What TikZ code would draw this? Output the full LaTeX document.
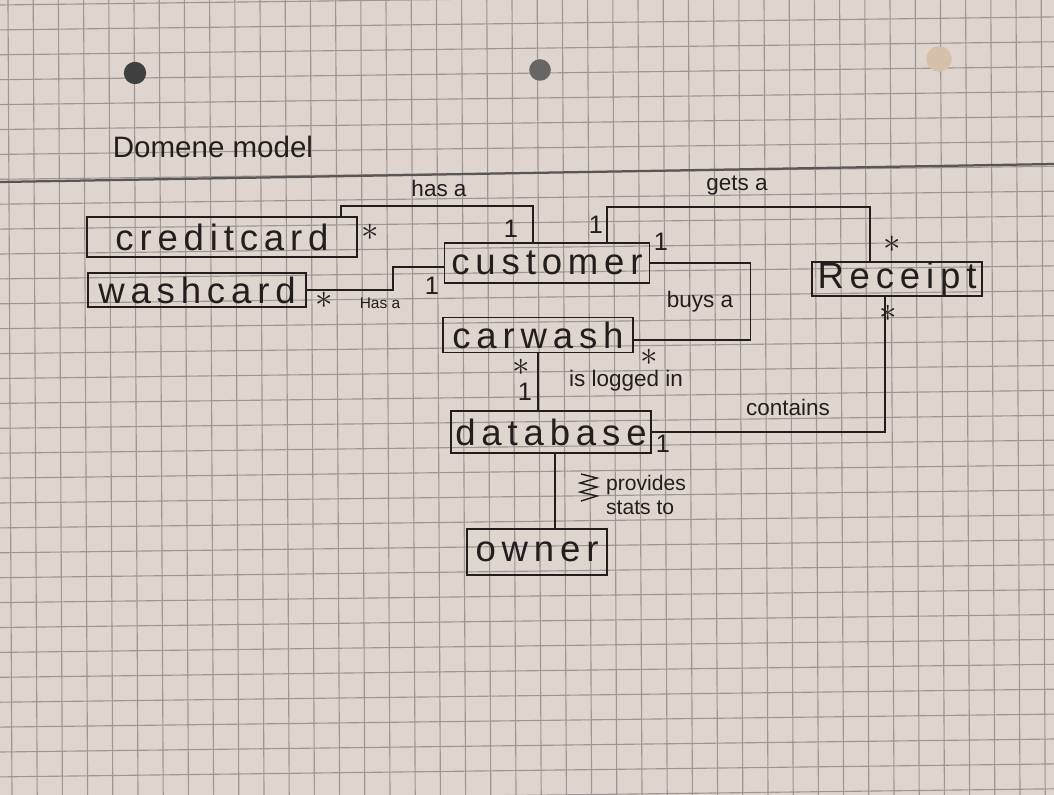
\documentclass[tikz,border=0pt]{standalone}
\usepackage{fontspec}
\setmainfont{Liberation Sans}
\newfontfamily\boxfont{Liberation Sans}[LetterSpace=16]
\usetikzlibrary{calc}
\definecolor{paper}{RGB}{222,213,207}
\definecolor{gridgray}{RGB}{158,150,146}
\definecolor{ink}{RGB}{34,30,30}

\begin{document}
\begin{tikzpicture}[x=0.25mm, y=-0.25mm,
    box/.style={draw=ink, line width=1.4pt, inner sep=0pt, text=ink,
      font=\boxfont\fontsize{26}{26}\selectfont},
    boxsize/.style 2 args={minimum width=#1*0.25mm, minimum height=#2*0.25mm},
    link/.style={draw=ink, line width=1.2pt},
    rel/.style={inner sep=0pt, text=ink, font=\fontsize{16}{18}\selectfont},
    one/.style={inner sep=0pt, text=ink, font=\fontsize{18}{18}\selectfont},
    many/.style={inner sep=0pt, text=ink, font=\fontsize{30}{30}\selectfont},
    gridline/.style={gridgray, line width=0.8pt}]
    % Papier
    \fill[paper] (0,0) rectangle (1054,795);
    \useasboundingbox (0,0) rectangle (1054,795);
    % Karolinien
    \foreach \i in {0,...,32} {
        \draw[gridline] (0,{5+24.9*\i}) -- (1054,{5+24.9*\i-13});
    }
    \foreach \i in {0,...,41} {
        \draw[gridline] ({8+25.2*\i},0) -- ({12+25.2*\i},795);
    }
    % Randlinie und Lochung
    \draw[ink!75, line width=1.6pt] (0,182) -- (1054,164);
    \fill[black!75] (135,73) circle (2.8mm);
    \fill[black!60] (540,70) circle (2.7mm);
    \fill[paper!75!brown] (939,59) circle (3.2mm);
    % Titel
    \node[inner sep=0pt, text=ink, font=\fontsize{21}{21}\selectfont] (title) at (213,147) {Domene model};
    % Klassen
    \node[box, boxsize={270}{40}] (creditcard) at (222,237) {creditcard};
    \node[box, boxsize={218}{34}] (washcard) at (197,290) {washcard};
    \node[box, boxsize={205}{40}] (customer) at (547,263) {customer};
    \node[box, boxsize={190}{35}] (carwash) at (538,335) {carwash};
    \node[box, boxsize={200}{42}] (database) at (551,432) {database};
    \node[box, boxsize={140}{46}] (owner) at (537,552) {owner};
    \node[box, boxsize={170}{34}] (Receipt) at (897,279) {Receipt};
    % Assoziationen
    \draw[link] ($(creditcard.north east)+(-17,0)$) -- ++(0,-10) -| ($(customer.north)+(-14,0)$);
    \draw[link] (washcard.east) -- ++(86,0) |- ($(customer.west)+(0,4)$);
    \draw[link] ($(customer.north)+(60,0)$) -- ++(0,-35) -| ($(Receipt.north)+(-27,0)$);
    \draw[link] (customer.east) -- ++(100,0) |- ($(carwash.east)+(0,5)$);
    \draw[link] (carwash.south) -- (carwash.south |- database.north);
    \draw[link] (database.east) -| ($(Receipt.south)+(-12,0)$);
    \draw[link] ($(database.south)+(4,0)$) coordinate (dbo) -- (dbo |- owner.north);
    % Beschriftungen der Assoziationen
    \node[rel] (hasa) at (439,188) {has a};
    \node[rel] (getsa) at (737,186) {gets a};
    \node[rel] (buysa) at (700,302) {buys a};
    \node[rel] (logged) at (626,381) {is logged in};
    \node[rel] (contains) at (788,407) {contains};
    \node[rel, font=\fontsize{11}{12}\selectfont] (hasb) at (380,303) {Has a};
    \node[rel, align=left, font=\fontsize{15}{17}\selectfont] (stats) at (646,495) {provides\\stats to};
    \draw[ink, line width=1pt] (581,474) -- (597,478) -- (580,483) -- (597,487) -- (580,492) -- (597,496) -- (581,501);
    % Multiplizitaeten
    \foreach \n/\x/\y in {mcc/370/232, mwc/324/300, mrt/892/244, mrb/888/313, mcw/649/357, mcd/521/367} {
        \node[many] (\n) at (\x,\y) {$\ast$};
    }
    \foreach \n/\x/\y in {occ/511/229, owc/432/286, ocr/596/225, ocw/661/242, odb/525/392, odr/663/444} {
        \node[one] (\n) at (\x,\y) {1};
    }
\end{tikzpicture}
\end{document}
